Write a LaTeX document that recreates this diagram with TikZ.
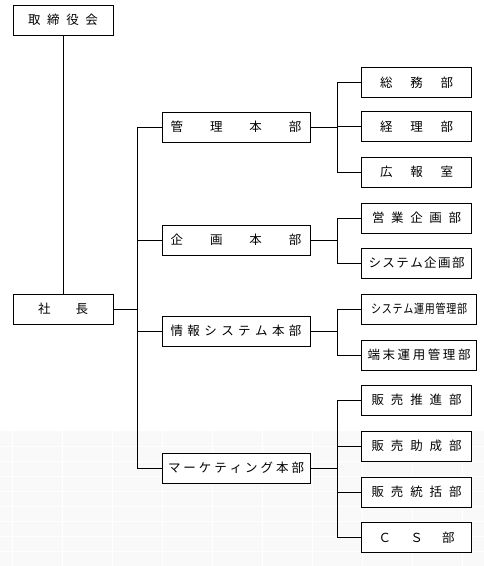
\documentclass[tikz,border=0pt]{standalone}
\usepackage{fontspec}
\setmainfont{Noto Sans CJK JP}
\usepackage{graphicx}

\tikzset{
  box/.style={draw,fill=white,line width=1pt,inner sep=0pt,minimum height=30pt},
  hqbox/.style={box,minimum width=148pt},
  deptbox/.style={box,anchor=west,minimum width=110pt},
}
% spread the characters of #2 over #1 pt
\newcommand\spread[2]{\makebox[#1pt][s]{#2}}

\begin{document}
\begin{tikzpicture}[x=1pt,y=-1pt,line width=1pt,line cap=rect,
    font=\fontsize{12.5}{14}\selectfont]
  % page and sheet grid
  \useasboundingbox (0,0) rectangle (484,566);
  \fill[white] (0,0) rectangle (484,566);
  \fill[black!2.5] (0,431) rectangle (484,566);
  \foreach \y in {446,461,...,566}
    \draw[white,line width=1] (0,\y) -- (484,\y);
  \foreach \x in {12,62,...,462}
    \draw[white,line width=1] (\x,431) -- (\x,566);
  % top of the chart
  \node[box,minimum width=100pt] (board) at (63,20)
    {\spread{70}{取\hfill 締\hfill 役\hfill 会}\hspace{10pt}};
  \node[box,minimum width=100pt] (ceo) at (63,309) {\spread{50}{社\hfill 長}};
  % head offices
  \node[hqbox] (kanri)  at (236,127) {\spread{131}{管\hfill 理\hfill 本\hfill 部}};
  \node[hqbox] (kikaku) at (236,240) {\spread{131}{企\hfill 画\hfill 本\hfill 部}};
  \node[hqbox] (joho)   at (236,331)
    {\spread{131}{情\hfill 報\hfill シ\hfill ス\hfill テ\hfill ム\hfill 本\hfill 部}};
  \node[hqbox] (mkt)    at (236,468)
    {\spread{136}{マ\hfill ー\hfill ケ\hfill テ\hfill ィ\hfill ン\hfill グ\hfill 本\hfill 部}};
  % departments
  \node[deptbox] (somu)      at (361,82.5)  {\spread{73}{総\hfill 務\hfill 部}};
  \node[deptbox] (keiri)     at (361,126.5) {\spread{73}{経\hfill 理\hfill 部}};
  \node[deptbox] (koho)      at (361,172)   {\spread{73}{広\hfill 報\hfill 室}};
  \node[deptbox] (eigyo)     at (361,218)   {\spread{89}{営\hfill 業\hfill 企\hfill 画\hfill 部}};
  \node[deptbox] (syskikaku) at (361,263)
    {\spread{96}{シ\hfill ス\hfill テ\hfill ム\hfill 企\hfill 画\hfill 部}};
  \node[deptbox,minimum width=115pt] (unyo) at (361,309)
    {\scalebox{0.8}[1]{\spread{120}{シ\hfill ス\hfill テ\hfill ム\hfill 運\hfill 用\hfill 管\hfill 理\hfill 部}}};
  \node[deptbox,minimum width=115pt] (tanmatsu) at (361,355)
    {\spread{103}{端\hfill 末\hfill 運\hfill 用\hfill 管\hfill 理\hfill 部}};
  \node[deptbox] (suishin)   at (361,400)   {\spread{90}{販\hfill 売\hfill 推\hfill 進\hfill 部}};
  \node[deptbox] (josei)     at (361,446)   {\spread{90}{販\hfill 売\hfill 助\hfill 成\hfill 部}};
  \node[deptbox] (tokatsu)   at (361,492)   {\spread{90}{販\hfill 売\hfill 統\hfill 括\hfill 部}};
  \node[deptbox] (cs)        at (361,537.5) {\spread{76}{Ｃ\hfill Ｓ\hfill 部}};
  % connectors
  \coordinate (trunk) at (137,0);
  \coordinate (branch) at (337,0);
  \draw (board) -- (ceo);
  \draw (ceo.east) -- (ceo.east -| trunk);
  \draw (kanri.west -| trunk) -- (mkt.west -| trunk);
  \foreach \h in {kanri,kikaku,joho,mkt}
    \draw (\h.west) -- (\h.west -| trunk);
  \foreach \h/\a/\b in {kanri/somu/koho,kikaku/eigyo/syskikaku,
                        joho/unyo/tanmatsu,mkt/suishin/cs}
    \draw (\h.east) -- (\h.east -| branch) (\a.west -| branch) -- (\b.west -| branch);
  \foreach \d in {somu,keiri,koho,eigyo,syskikaku,unyo,tanmatsu,
                  suishin,josei,tokatsu,cs}
    \draw (\d.west) -- (\d.west -| branch);
\end{tikzpicture}
\end{document}
